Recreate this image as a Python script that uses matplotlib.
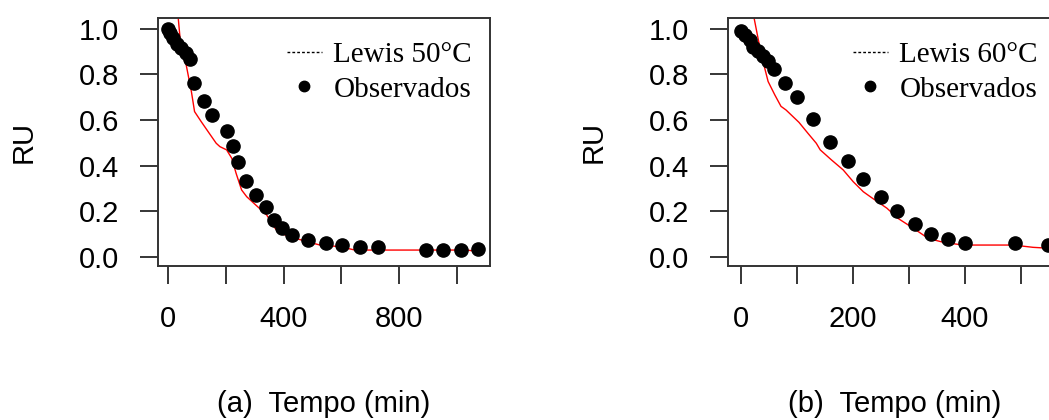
import matplotlib
matplotlib.use("Agg")
import matplotlib.pyplot as plt
from matplotlib.lines import Line2D

# observed moisture ratio, 50 C
t_obs_50 = [0, 5, 15, 30, 45, 60, 75, 90, 125, 150, 205, 225, 243, 270, 305, 340,
            365, 393, 428, 485, 547, 601, 665, 728, 893, 951, 1013, 1075]
ru_obs_50 = [1.0, 0.98, 0.96, 0.935, 0.915, 0.895, 0.868, 0.763, 0.682, 0.622, 0.551,
             0.487, 0.415, 0.333, 0.271, 0.220, 0.160, 0.125, 0.097, 0.072, 0.062,
             0.051, 0.041, 0.041, 0.030, 0.030, 0.030, 0.032]

# Lewis model, 50 C
t_mod_50 = [0, 34, 45, 62, 80, 91, 114, 138, 166, 179, 202, 220, 235, 254, 272, 341,
            370, 387, 422, 480, 526, 595, 647, 1034, 1080]
ru_mod_50 = [1.51, 1.054, 0.900, 0.842, 0.725, 0.637, 0.593, 0.549, 0.498, 0.483,
             0.469, 0.432, 0.366, 0.293, 0.263, 0.183, 0.125, 0.103, 0.088, 0.066,
             0.051, 0.044, 0.029, 0.029, 0.022]

# observed moisture ratio, 60 C
t_obs_60 = [0, 7, 16, 22, 31, 40, 49, 60, 79, 100, 129, 160, 192, 218, 250, 280,
            311, 340, 371, 400, 490, 548]
ru_obs_60 = [0.99, 0.973, 0.95, 0.922, 0.902, 0.883, 0.858, 0.824, 0.763, 0.702,
             0.606, 0.504, 0.420, 0.340, 0.261, 0.202, 0.142, 0.098, 0.076, 0.061,
             0.060, 0.051]

# Lewis model, 60 C
t_mod_60 = [0, 24, 31, 37, 43, 49, 61, 72, 81, 104, 120, 135, 142, 162, 183, 201,
            219, 231, 245, 261, 281, 310, 335, 362, 397, 487, 522, 550]
ru_mod_60 = [1.35, 1.047, 0.959, 0.886, 0.827, 0.769, 0.710, 0.660, 0.644, 0.590,
             0.542, 0.498, 0.469, 0.425, 0.381, 0.329, 0.285, 0.264, 0.240, 0.213,
             0.168, 0.122, 0.080, 0.063, 0.051, 0.051, 0.041, 0.037]

W, H = 1049, 420
fig = plt.figure(figsize=(W / 100, H / 100), dpi=100)

sans = "Liberation Sans"
serif = "Liberation Serif"
fs = 21


def panel(rect, t_obs, ru_obs, t_mod, ru_mod, xlim, xticks, xlabels, lab, legtitle, leg_x):
    ax = fig.add_axes(rect)
    ax.plot(t_mod, ru_mod, color="#ff0000", lw=1.0, zorder=2)
    ax.plot(t_obs, ru_obs, "o", color="black", ms=9.5, zorder=3)
    ax.set_xticks(xticks)
    ax.set_xticklabels(xlabels)
    ax.set_yticks([0, 0.2, 0.4, 0.6, 0.8, 1.0])
    ax.set_yticklabels(["0.0", "0.2", "0.4", "0.6", "0.8", "1.0"])
    # limits after ticks, so the outer tick does not widen the view
    ax.set_xlim(*xlim)
    ax.set_ylim(-0.041, 1.048)
    ax.tick_params(length=13, width=1.1, pad=15, labelsize=fs, color="black")
    for lbl in ax.get_xticklabels() + ax.get_yticklabels():
        lbl.set_fontfamily(sans)
    for s in ax.spines.values():
        s.set_color("#333333")
        s.set_linewidth(1.4)
    ax.set_xlabel(lab, fontsize=fs, family=sans)
    ax.xaxis.set_label_coords(0.5, -0.5)
    ax.set_ylabel("RU", fontsize=fs, family=sans)
    ax.yaxis.set_label_coords(-0.362, 0.5)

    handles = [
        Line2D([], [], color="black", lw=1.0, ls=(0, (2, 1.5))),
        Line2D([], [], ls="none", marker="o", color="black", ms=7.5),
    ]
    ax.legend(handles, [legtitle, "Observados"], loc="upper left",
              bbox_to_anchor=(leg_x, 0.905), frameon=False,
              prop={"family": serif, "size": fs}, handlelength=1.2,
              handletextpad=0.4, labelspacing=0.28, borderpad=0, borderaxespad=0)
    return ax


panel([158 / W, 1 - 266 / H, 332 / W, 248 / H], t_obs_50, ru_obs_50, t_mod_50, ru_mod_50,
      (-35.7, 1115), [0, 200, 400, 600, 800, 1000], ["0", "", "400", "", "800", ""],
      "(a)  Tempo (min)", "Lewis 50°C", 0.388)
panel([728.3 / W, 1 - 266 / H, 332 / W, 248 / H], t_obs_60, ru_obs_60, t_mod_60, ru_mod_60,
      (-22.1, 570.7), [0, 100, 200, 300, 400, 500, 600],
      ["0", "", "200", "", "400", "", "600"],
      "(b)  Tempo (min)", "Lewis 60°C", 0.375)

fig.savefig("out.png", dpi=100)
